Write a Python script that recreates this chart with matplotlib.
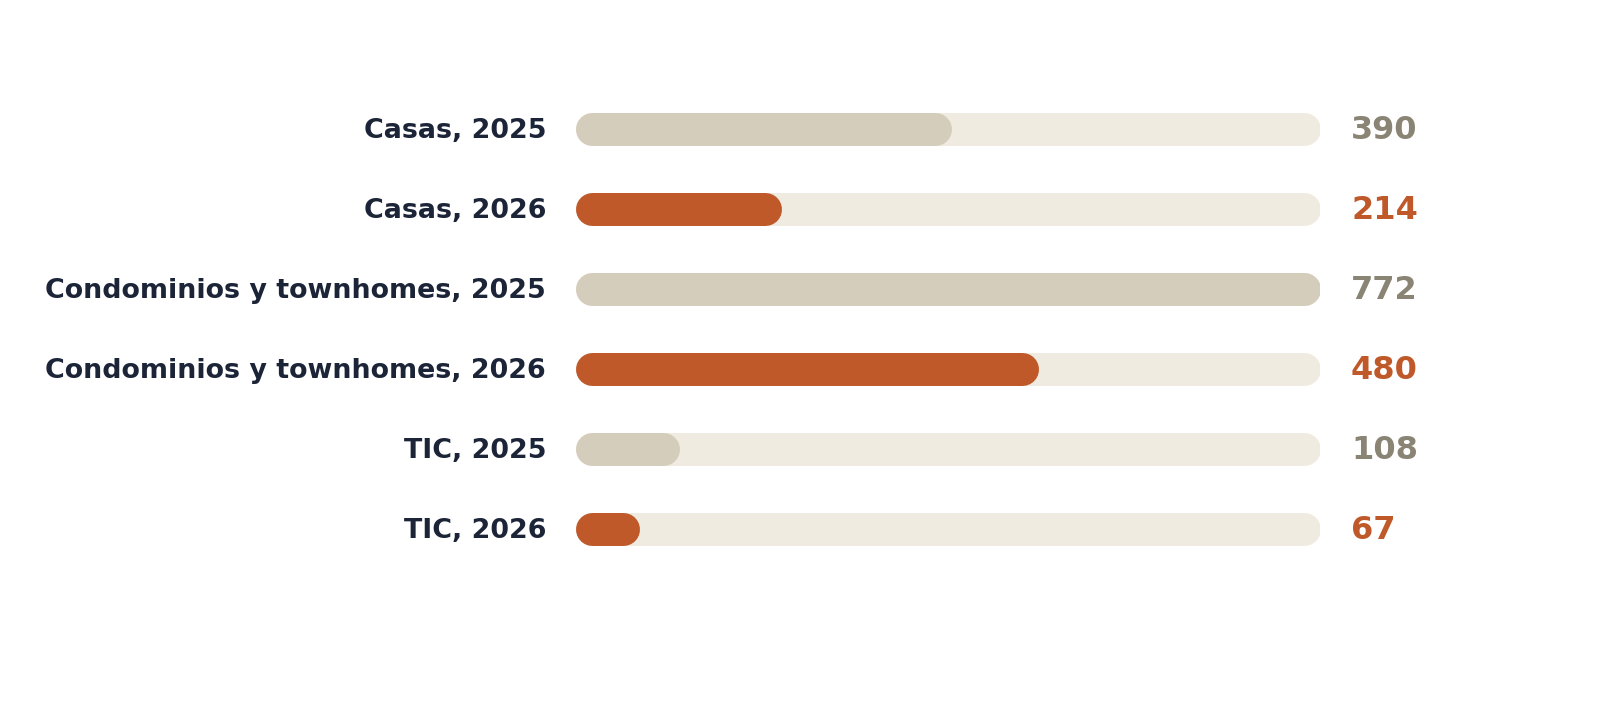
import matplotlib
matplotlib.use("Agg")
import matplotlib.pyplot as plt
from matplotlib.transforms import offset_copy

plt.rcParams["font.family"] = ["DejaVu Sans"]

categories = ["Casas, 2025", "Casas, 2026",
              "Condominios y townhomes, 2025", "Condominios y townhomes, 2026",
              "TIC, 2025", "TIC, 2026"]
values = [390, 214, 772, 480, 108, 67]
years = [2025, 2026, 2025, 2026, 2025, 2026]

TRACK = "#efebe1"
BAR25 = "#d5cdbb"
BAR26 = "#c0592a"
VAL25 = "#8a8474"
LABEL = "#1c2438"

W, H, DPI = 1623, 710, 100
fig = plt.figure(figsize=(W / DPI, H / DPI), dpi=DPI)
x0_px, x1_px = 575, 1320
row0_px, row_step_px = 129, 80
ax = fig.add_axes([x0_px / W, 0, (x1_px - x0_px) / W, 1])
vmax = max(values)
ax.set_xlim(0, vmax)
ax.set_ylim((H - row0_px) / row_step_px, -row0_px / row_step_px)
ax.axis("off")

x_per_px = vmax / (x1_px - x0_px)
bar_h_px = 33
lw_pt = bar_h_px * 72 / DPI
r = bar_h_px / 2 * x_per_px

def rbar(y, w, color, z):
    ax.plot([r, w - r], [y, y], color=color, lw=lw_pt,
            solid_capstyle="round", zorder=z)

lab_tr = offset_copy(ax.transData, fig=fig, x=-29, y=1, units="dots")
val_tr = offset_copy(ax.transData, fig=fig, x=31, y=2, units="dots")

for i, (c, v, yr) in enumerate(zip(categories, values, years)):
    rbar(i, vmax, TRACK, 1)
    col = BAR25 if yr == 2025 else BAR26
    rbar(i, v, col, 2)
    ax.text(0, i, c, transform=lab_tr, ha="right", va="center_baseline",
            fontsize=19.4, fontweight="bold", color=LABEL)
    ax.text(vmax, i, str(v), transform=val_tr, ha="left", va="center_baseline",
            fontsize=23, fontweight="bold",
            color=VAL25 if yr == 2025 else BAR26)

fig.savefig("out.png", dpi=DPI, facecolor="white")
